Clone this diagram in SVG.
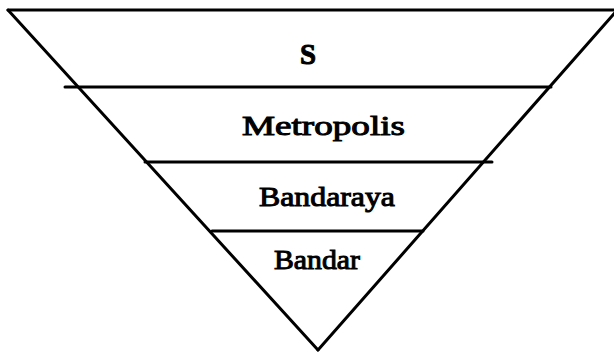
<svg xmlns="http://www.w3.org/2000/svg" width="614" height="354" viewBox="0 0 614 354">
<style>
.ln{stroke:#000;stroke-width:3;fill:none;stroke-linecap:round}
.t{font-family:"Liberation Serif","Times New Roman",serif;fill:#000;stroke:#000;stroke-width:1}
</style>
<rect width="614" height="354" fill="#fff"/>
<g id="connectors">
<line class="ln" x1="8" y1="10" x2="614" y2="10"/>
<line class="ln" x1="8" y1="10" x2="318" y2="350"/>
<line class="ln" x1="619" y1="8" x2="318" y2="350"/>
<line class="ln" x1="65" y1="87" x2="551" y2="87"/>
<line class="ln" x1="145" y1="162" x2="492" y2="162"/>
<line class="ln" x1="212" y1="231" x2="423" y2="231"/>
</g>
<g id="s"><text class="t" x="300" y="64" font-size="30" font-weight="bold" textLength="16" lengthAdjust="spacingAndGlyphs" stroke-width="0.8">S</text></g>
<g id="metropolis"><text class="t" x="242" y="135" font-size="28" textLength="163" lengthAdjust="spacingAndGlyphs">Metropolis</text></g>
<g id="bandaraya"><text class="t" x="259" y="206" font-size="28" textLength="136" lengthAdjust="spacingAndGlyphs">Bandaraya</text></g>
<g id="bandar"><text class="t" x="274" y="269" font-size="28" textLength="86" lengthAdjust="spacingAndGlyphs">Bandar</text></g>
</svg>
